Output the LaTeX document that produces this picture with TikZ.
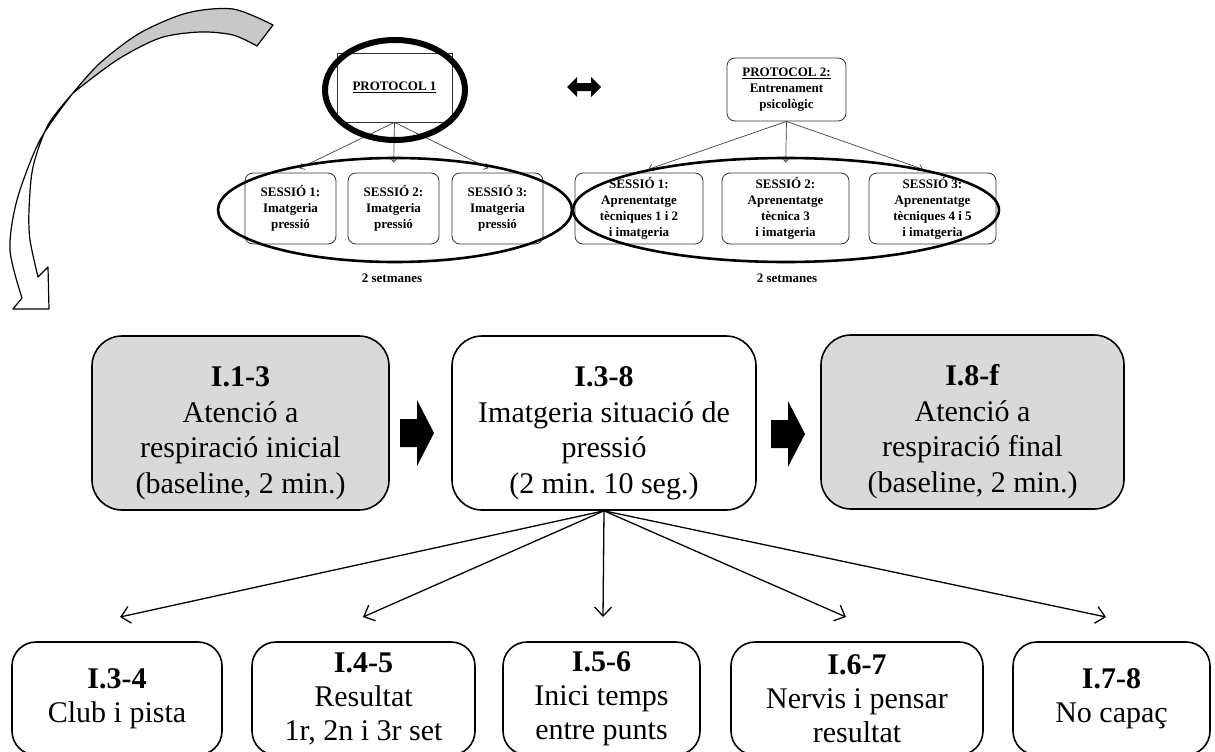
\documentclass[tikz,border=0pt]{standalone}
\usepackage{fontspec}
\setmainfont{Liberation Serif}
\usetikzlibrary{arrows.meta}
\definecolor{boxgray}{HTML}{D9D9D9}
\definecolor{bandgray}{HTML}{C8C8C8}
% extra room above the first line pushes the text block a little lower in its box
\newcommand{\headgap}{\rule{0pt}{40pt}}
\begin{document}
\frenchspacing
\begin{tikzpicture}[x=1pt,y=-1pt,
  small/.style={font=\fontsize{13}{16}\selectfont\bfseries, align=center, inner sep=0pt},
  sessbox/.style={small, draw=black!80, line width=0.8pt, rounded corners=8pt, minimum height=71pt},
  bigbox/.style={draw, line width=1.6pt, rounded corners=30pt, align=center, inner sep=0pt,
                 minimum height=174pt, font=\fontsize{30}{35.5}\selectfont},
  leafbox/.style={draw, line width=1.6pt, rounded corners=24pt, align=center, inner sep=0pt,
                  minimum height=113pt, font=\fontsize{30}{34}\selectfont},
  thinarrow/.style={draw=black!75, line width=0.7pt, -{Straight Barb[length=4pt,width=7pt]}},
  fan/.style={line width=1.3pt, -{Straight Barb[length=9pt,width=17pt]}},
  ring/.style={line width=2.6pt},
  outline/.style={line width=1.2pt, line join=round},
]
\useasboundingbox (0,0) rectangle (1215,752);
\clip (0,0) rectangle (1215,752);

% ---- curved ribbon arrow, top left ----
\filldraw[outline, fill=bandgray]
  plot[smooth] coordinates {(273,25) (233,9) (187,13) (140,33) (100,63) (73,93)}
  -- plot[smooth] coordinates {(73,93) (117,60) (160,38) (200,32) (233,35) (257,46)}
  -- cycle;
\filldraw[outline, fill=white]
  plot[smooth] coordinates {(73,93) (40,140) (17,200) (10,250) (22,298)}
  -- (13,309) -- (49,309) -- (48,267) -- (38,277)
  -- plot[smooth] coordinates {(38,277) (30,240) (29,210) (33,167) (48,125) (73,93)}
  -- cycle;

% ---- protocol 1 ----
\node[draw=black!80, line width=0.8pt, minimum width=115pt, minimum height=69pt, small]
  (p1) at (394.5,87.5) {\underline{PROTOCOL 1}};
\node[sessbox, minimum width=91pt] (s11) at (290.5,208.5) {SESSIÓ 1:\\Imatgeria\\pressió};
\node[sessbox, minimum width=91pt] (s12) at (393.5,208.5) {SESSIÓ 2:\\Imatgeria\\pressió};
\node[sessbox, minimum width=91pt] (s13) at (497.5,208.5) {SESSIÓ 3:\\Imatgeria\\pressió};
\draw[thinarrow, shorten >=10pt] (p1.south) -- (s11.north);
\draw[thinarrow, shorten >=10pt] (p1.south) -- (s12.north);
\draw[thinarrow, shorten >=10pt] (p1.south) -- (s13.north);
\draw[line width=6pt] (395,90) ellipse [x radius=70pt, y radius=50pt];
\draw[ring] (395,210) ellipse [x radius=177pt, y radius=52pt];
\node[small] (w1) at (392,278) {2 setmanes};

% ---- double arrow between protocols ----
\fill[shift={(584,87)}] (-17,0) -- (-7,-10) -- (-7,-4) -- (7,-4) -- (7,-10) -- (17,0)
  -- (7,10) -- (7,4) -- (-7,4) -- (-7,10) -- cycle;

% ---- protocol 2 ----
\node[draw=black!80, line width=0.8pt, rounded corners=8pt, minimum width=119pt, minimum height=63pt, small]
  (p2) at (786.5,89.5) {\underline{PROTOCOL 2:}\\Entrenament\\psicològic};
\node[sessbox, minimum width=128pt] (s21) at (639,208.5) {SESSIÓ 1:\\Aprenentatge\\tècniques 1 i 2\\i imatgeria};
\node[sessbox, minimum width=127pt] (s22) at (785.5,208.5) {SESSIÓ 2:\\Aprenentatge\\tècnica 3\\i imatgeria};
\node[sessbox, minimum width=127pt] (s23) at (932.5,208.5) {SESSIÓ 3:\\Aprenentatge\\tècniques 4 i 5\\i imatgeria};
\draw[thinarrow, shorten >=10pt] (p2.south) -- (s21.north);
\draw[thinarrow, shorten >=10pt] (p2.south) -- (s22.north);
\draw[thinarrow, shorten >=10pt] (p2.south) -- (s23.north);
\draw[ring] (786,210) ellipse [x radius=213pt, y radius=52pt];
\node[small] (w2) at (787,278) {2 setmanes};

% ---- imagery session phases ----
\node[bigbox, fill=boxgray, minimum width=297pt] (b1) at (240.5,423)
  {\headgap\textbf{I.1-3}\\Atenció a\\respiració inicial\\(baseline, 2 min.)};
\node[bigbox, minimum width=304pt] (b2) at (604,423)
  {\headgap\textbf{I.3-8}\\Imatgeria situació de\\pressió\\(2 min. 10 seg.)};
\node[bigbox, fill=boxgray, minimum width=303pt] (b3) at (972.5,422)
  {\headgap\textbf{I.8-f}\\Atenció a\\respiració final\\(baseline, 2 min.)};

\fill[shift={(400,433)}] (0,-14) -- (17,-14) -- (17,-33) -- (34,0) -- (17,33) -- (17,14) -- (0,14) -- cycle;
\fill[shift={(771,434)}] (0,-14) -- (17,-14) -- (17,-33) -- (34,0) -- (17,33) -- (17,14) -- (0,14) -- cycle;

% ---- imagery content ----
\node[leafbox, minimum width=210pt] (l1) at (117,698.5) {\textbf{I.3-4}\\Club i pista};
\node[leafbox, minimum width=223pt] (l2) at (363.5,698.5) {\textbf{I.4-5}\\Resultat\\1r, 2n i 3r set};
\node[leafbox, minimum width=197pt] (l3) at (601.5,698.5) {\textbf{I.5-6}\\Inici temps\\entre punts};
\node[leafbox, minimum width=252pt] (l4) at (857,698.5) {\textbf{I.6-7}\\Nervis i pensar\\resultat};
\node[leafbox, minimum width=197pt] (l5) at (1111.5,698.5) {\textbf{I.7-8}\\No capaç};

\coordinate (t1) at (120,617);
\coordinate (t2) at (363,617);
\coordinate (t3) at (603,617);
\coordinate (t4) at (846,617);
\coordinate (t5) at (1106,617);
\foreach \t in {t1,t2,t3,t4,t5} \draw[fan] (b2.south) -- (\t);
\end{tikzpicture}
\end{document}
